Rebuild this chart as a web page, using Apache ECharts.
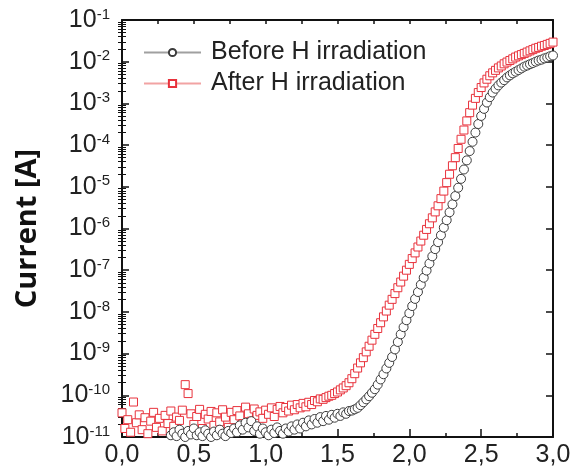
<!DOCTYPE html>
<html>
<head>
<meta charset="utf-8">
<script src="https://cdn.jsdelivr.net/npm/echarts@6/dist/echarts.min.js"></script>
<style>
html,body{margin:0;padding:0;background:#fff;}
#chart{width:575px;height:472px;}
</style>
</head>
<body>
<div id="chart"></div>
<script>
// Bias voltage samples (V)
const xs = [
0,0.02,0.04,0.06,0.08,0.1,0.12,0.14,0.16,0.18,
0.2,0.22,0.24,0.26,0.28,0.3,0.32,0.34,0.36,0.38,
0.4,0.42,0.44,0.46,0.48,0.5,0.52,0.54,0.56,0.58,
0.6,0.62,0.64,0.66,0.68,0.7,0.72,0.74,0.76,0.78,
0.8,0.82,0.84,0.86,0.88,0.9,0.92,0.94,0.96,0.98,
1.0,1.02,1.04,1.06,1.08,1.1,1.12,1.14,1.16,1.18,
1.2,1.22,1.24,1.26,1.28,1.3,1.32,1.34,1.36,1.38,
1.4,1.42,1.44,1.46,1.48,1.5,1.52,1.54,1.56,1.58,
1.6,1.62,1.64,1.66,1.68,1.7,1.72,1.74,1.76,1.78,
1.8,1.82,1.84,1.86,1.88,1.9,1.92,1.94,1.96,1.98,
2.0,2.02,2.04,2.06,2.08,2.1,2.12,2.14,2.16,2.18,
2.2,2.22,2.24,2.26,2.28,2.3,2.32,2.34,2.36,2.38,
2.4,2.42,2.44,2.46,2.48,2.5,2.52,2.54,2.56,2.58,
2.6,2.62,2.64,2.66,2.68,2.7,2.72,2.74,2.76,2.78,
2.8,2.82,2.84,2.86,2.88,2.9,2.92,2.94,2.96,2.98,
3.0
];

// Current before H irradiation (A); null = below the visible range
const beforeCurrent = [
null,null,null,null,null,null,null,null,null,null,
null,null,null,null,null,null,null,1.1e-11,1.3e-11,1.05e-11,
1.5e-11,1.2e-11,1.0e-11,1.4e-11,1.15e-11,1.6e-11,1.1e-11,1.3e-11,1.05e-11,1.45e-11,
1.2e-11,1.0e-11,1.35e-11,1.1e-11,1.5e-11,1.2e-11,1.05e-11,1.4e-11,1.25e-11,1.6e-11,
1.3e-11,1.9e-11,1.5e-11,2.2e-11,1.7e-11,2.4e-11,1.4e-11,1.8e-11,1.2e-11,1.6e-11,
1.3e-11,1.1e-11,1.5e-11,1.25e-11,1.7e-11,1.4e-11,1.2e-11,1.6e-11,1.35e-11,1.8e-11,
1.5e-11,2.0e-11,1.6e-11,2.2e-11,1.8e-11,2.5e-11,2.0e-11,2.7e-11,2.2e-11,3.0e-11,
2.4e-11,3.2e-11,2.6e-11,3.4e-11,2.9e-11,3.6e-11,3.2e-11,3.9e-11,3.6e-11,4.2e-11,
4.3e-11,4.6e-11,5.0e-11,5.8e-11,6.8e-11,8.0e-11,9.5e-11,1.15e-10,1.4e-10,1.8e-10,
2.4e-10,3.2e-10,4.4e-10,6.0e-10,8.3e-10,1.26e-9,1.9e-9,2.9e-9,4.3e-9,6.3e-9,
9.3e-9,1.38e-8,2.05e-8,3.0e-8,4.5e-8,6.6e-8,9.8e-8,1.45e-7,2.15e-7,3.2e-7,
4.7e-7,6.9e-7,1.05e-6,1.58e-6,2.45e-6,3.8e-6,6.0e-6,9.5e-6,1.55e-5,2.6e-5,
4.3e-5,7.2e-5,1.2e-4,2.0e-4,3.2e-4,5.0e-4,7.4e-4,1.05e-3,1.41e-3,1.82e-3,
2.25e-3,2.7e-3,3.15e-3,3.6e-3,4.2e-3,4.7e-3,5.25e-3,5.75e-3,6.3e-3,6.9e-3,
7.6e-3,8.1e-3,8.7e-3,9.3e-3,1.0e-2,1.07e-2,1.12e-2,1.2e-2,1.26e-2,1.35e-2,
1.41e-2
];

// Current after H irradiation (A)
const afterCurrent = [
3.8e-11,1.6e-11,2.6e-11,1.3e-11,6.9e-11,2.2e-11,3.4e-11,1.5e-11,2.9e-11,1.2e-11,
2.4e-11,3.9e-11,1.7e-11,2.8e-11,1.4e-11,3.3e-11,2.1e-11,4.2e-11,1.8e-11,3.0e-11,
2.5e-11,4.4e-11,1.8e-10,1.1e-10,3.6e-11,2.0e-11,3.1e-11,4.6e-11,1.6e-11,3.5e-11,
2.7e-11,4.1e-11,1.9e-11,3.8e-11,2.3e-11,4.5e-11,3.0e-11,1.7e-11,3.9e-11,2.6e-11,
4.3e-11,3.2e-11,2.1e-11,5.2e-11,3.6e-11,2.4e-11,4.7e-11,3.3e-11,4.0e-11,2.8e-11,
4.4e-11,3.5e-11,5.0e-11,3.1e-11,4.6e-11,5.4e-11,3.8e-11,5.1e-11,4.2e-11,5.8e-11,
4.5e-11,6.0e-11,5.0e-11,6.4e-11,5.3e-11,6.8e-11,6.0e-11,7.5e-11,7.0e-11,8.2e-11,
8.0e-11,8.8e-11,9.5e-11,1.0e-10,1.1e-10,1.2e-10,1.35e-10,1.5e-10,1.7e-10,2.0e-10,
2.5e-10,3.3e-10,4.5e-10,6.0e-10,8.0e-10,1.1e-9,1.5e-9,2.1e-9,2.9e-9,4.0e-9,
5.5e-9,7.6e-9,1.05e-8,1.45e-8,2.0e-8,2.75e-8,3.8e-8,5.2e-8,7.2e-8,1.0e-7,
1.38e-7,1.9e-7,2.6e-7,3.6e-7,5.0e-7,6.9e-7,9.5e-7,1.3e-6,1.8e-6,2.5e-6,
3.5e-6,5.2e-6,7.9e-6,1.26e-5,2.0e-5,3.2e-5,5.0e-5,8.3e-5,1.38e-4,2.3e-4,
3.8e-4,6.0e-4,9.1e-4,1.32e-3,1.82e-3,2.4e-3,3.1e-3,3.8e-3,4.6e-3,5.4e-3,
6.2e-3,7.1e-3,7.9e-3,8.9e-3,9.8e-3,1.07e-2,1.17e-2,1.29e-2,1.38e-2,1.48e-2,
1.58e-2,1.7e-2,1.82e-2,1.95e-2,2.1e-2,2.2e-2,2.35e-2,2.45e-2,2.6e-2,2.75e-2,
2.95e-2
];

const seriesNames = ['Before H irradiation', 'After H irradiation'];
const yDecadeExponents = [-11,-10,-9,-8,-7,-6,-5,-4,-3,-2,-1];
const minorMultipliers = [2,3,4,5,6,7,8,9];
const yAxisTitle = 'Current [A]';

const minorExps = [];
for (let d = -11; d < -1; d++) {
  minorMultipliers.forEach(k => minorExps.push(d + Math.log10(k)));
}

function pairs(arr) {
  const out = [];
  xs.forEach((x, i) => { if (arr[i] != null) out.push([x, arr[i]]); });
  return out;
}

const FONT = 'Liberation Sans, Arial, sans-serif';
const AX = '#111';

const chart = echarts.init(document.getElementById('chart'), null, {renderer: 'canvas'});
const option = {
  animation: false,
  backgroundColor: '#fff',
  grid: {left: 122, right: 22, top: 20, bottom: 35, containLabel: false},
  legend: {
    orient: 'vertical', left: 143, top: 40, padding: 0, itemGap: 6,
    itemWidth: 57, itemHeight: 9,
    textStyle: {fontSize: 25, color: '#222', fontFamily: FONT, padding: [0, 0, 0, 5]},
    data: [
      {name: seriesNames[0], lineStyle: {color: '#a0a0a0', width: 2, opacity: 1}},
      {name: seriesNames[1], lineStyle: {color: '#f2a3a3', width: 2, opacity: 1}}
    ]
  },
  xAxis: [
    {
      type: 'value', position: 'bottom', min: 0, max: 3, interval: 0.5,
      axisLine: {show: true, onZero: false, lineStyle: {color: AX, width: 2}},
      axisTick: {show: true, inside: true, length: 8, lineStyle: {color: AX, width: 1.5}},
      minorTick: {show: true, splitNumber: 2, length: 4, lineStyle: {color: AX, width: 1.5}},
      axisLabel: {
        fontSize: 25, color: '#222', fontFamily: FONT, margin: 6,
        formatter: v => v.toFixed(1).replace('.', ',')
      },
      splitLine: {show: false}
    },
    {
      type: 'value', position: 'top', min: 0, max: 3, interval: 0.25,
      axisLine: {show: true, onZero: false, lineStyle: {color: AX, width: 2}},
      axisTick: {show: true, inside: true, length: 4, lineStyle: {color: AX, width: 1.5}},
      axisLabel: {show: false},
      splitLine: {show: false}
    }
  ],
  yAxis: [
    {
      type: 'log', logBase: 10, min: 1e-11, max: 1e-1, interval: 1, position: 'left',
      name: yAxisTitle, nameLocation: 'middle', nameGap: 80,
      nameTextStyle: {fontSize: 29, fontWeight: 'bold', fontFamily: 'Open Sans, Liberation Sans, sans-serif', color: '#111'},
      axisLine: {show: true, onZero: false, lineStyle: {color: AX, width: 2}},
      axisTick: {show: true, inside: true, length: 7, lineStyle: {color: AX, width: 1.5}},
      axisLabel: {
        margin: 12, color: '#222', fontFamily: FONT,
        formatter: v => '{b|10}{s|' + Math.round(Math.log10(v)) + '}',
        rich: {
          b: {fontSize: 25, fontFamily: FONT, color: '#222', lineHeight: 26, verticalAlign: 'middle'},
          s: {fontSize: 15, fontFamily: FONT, color: '#222', lineHeight: 15, verticalAlign: 'top'}
        }
      },
      splitLine: {show: false}
    },
    {
      type: 'value', min: -11, max: -1, position: 'left',
      axisLine: {show: false},
      axisTick: {show: true, inside: true, length: 4, customValues: minorExps, lineStyle: {color: AX, width: 1}},
      axisLabel: {show: false},
      splitLine: {show: false}
    },
    {
      type: 'log', logBase: 10, min: 1e-11, max: 1e-1, interval: 1, position: 'right',
      axisLine: {show: true, onZero: false, lineStyle: {color: AX, width: 2}},
      axisTick: {show: true, inside: true, length: 7, lineStyle: {color: AX, width: 1.5}},
      axisLabel: {show: false},
      splitLine: {show: false}
    },
    {
      type: 'value', min: -11, max: -1, position: 'right',
      axisLine: {show: false},
      axisTick: {show: true, inside: true, length: 4, customValues: minorExps, lineStyle: {color: AX, width: 1}},
      axisLabel: {show: false},
      splitLine: {show: false}
    }
  ],
  series: [
    {
      name: seriesNames[1], type: 'line', xAxisIndex: 0, yAxisIndex: 0,
      data: pairs(afterCurrent),
      symbol: 'rect', symbolSize: 8, showSymbol: true, showAllSymbol: true,
      lineStyle: {width: 0, opacity: 0},
      itemStyle: {color: '#fff', borderColor: '#e8323c', borderWidth: 1},
      emphasis: {disabled: true}, clip: true, z: 2
    },
    {
      name: seriesNames[0], type: 'line', xAxisIndex: 0, yAxisIndex: 0,
      data: pairs(beforeCurrent),
      symbol: 'circle', symbolSize: 9, showSymbol: true, showAllSymbol: true,
      lineStyle: {width: 0, opacity: 0},
      itemStyle: {color: '#fff', borderColor: '#3c3c3c', borderWidth: 1},
      emphasis: {disabled: true}, clip: true, z: 3
    }
  ]
};
chart.setOption(option);
</script>
</body>
</html>
